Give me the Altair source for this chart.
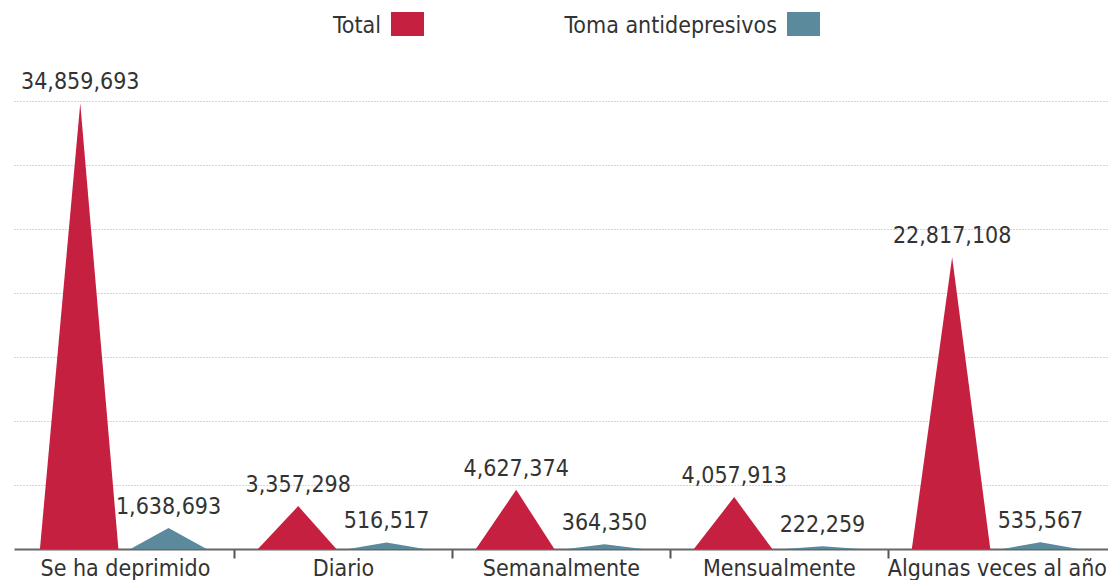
import json
import altair as alt
import pandas as pd

# ---- data ----
categories = ["Se ha deprimido", "Diario", "Semanalmente", "Mensualmente", "Algunas veces al año"]
total = [34859693, 3357298, 4627374, 4057913, 22817108]
antidep = [1638693, 516517, 364350, 222259, 535567]
series = ["Total", "Toma antidepresivos"]
colors = ["#c62041", "#5b8a9c"]
grid_values = [5e6, 10e6, 15e6, 20e6, 25e6, 30e6, 35e6]

# ---- style: where each peak sits inside its category slot (left base, apex, right base) ----
shape = {"Total": (0.11, 0.295, 0.47), "Toma antidepresivos": (0.525, 0.70, 0.875)}
values_by_series = {"Total": total, "Toma antidepresivos": antidep}

rows, labels = [], []
for i, cat in enumerate(categories):
    for s in series:
        v = values_by_series[s][i]
        l, a, r = shape[s]
        key = f"{i}-{s}"
        rows.append(dict(key=key, serie=s, x=i + l, y=0))
        rows.append(dict(key=key, serie=s, x=i + a, y=v))
        rows.append(dict(key=key, serie=s, x=i + r, y=0))
        labels.append(dict(serie=s, x=i + a, y=v))

peaks = pd.DataFrame(rows)
labs = pd.DataFrame(labels)

FONT = "Liberation Sans Narrow, DejaVu Sans Condensed, Roboto Condensed, Liberation Sans, sans-serif"
W, H = 1094, 541

xscale = alt.Scale(domain=[-0.009, 5.01], nice=False, zero=False)
yscale = alt.Scale(domain=[0, 42.3e6], nice=False)
cscale = alt.Scale(domain=series, range=colors)

tick_vals = [0.5, 1, 1.5, 2, 2.5, 3, 3.5, 4, 4.5]
label_expr = ("datum.value % 1 == 0.5 ? " + json.dumps(categories, ensure_ascii=False)
              + "[floor(datum.value)] : ''")

xaxis = alt.Axis(
    values=tick_vals, labelExpr=label_expr, title=None, grid=False,
    tickOpacity={"condition": {"test": "datum.value % 1 == 0", "value": 1}, "value": 0},
    tickSize=9, tickWidth=2, tickColor="#555", domainColor="#666", domainWidth=2,
    labelFont=FONT, labelFontSize=23, labelColor="#333", labelOverlap=False,
    labelFlush=False, labelPadding=-1, labelBound=False, labelLimit=0,
)
yaxis = alt.Axis(values=grid_values, labels=False, ticks=False, domain=False, title=None,
                 grid=True, gridDash=[1, 2], gridColor="#a8a8a8", gridWidth=1)

area = alt.Chart(peaks).mark_area(opacity=1).encode(
    x=alt.X("x:Q", scale=xscale, axis=xaxis),
    y=alt.Y("y:Q", scale=yscale, axis=yaxis, stack=None),
    color=alt.Color("serie:N", scale=cscale, legend=None),
    detail="key:N",
)

text = alt.Chart(labs).mark_text(baseline="bottom", dy=-9, font=FONT, fontSize=23, color="#333").encode(
    x=alt.X("x:Q", scale=xscale),
    y=alt.Y("y:Q", scale=yscale),
    text=alt.Text("y:Q", format=","),
)

# manual legend (labels left of swatches, as in the reference)
leg_layers = []
leg_pos = {"Total": 367, "Toma antidepresivos": 763}
for s, c in zip(series, colors):
    xr = leg_pos[s]
    d = pd.DataFrame({"serie": [s]})
    leg_layers.append(alt.Chart(d).mark_text(align="right", baseline="alphabetic", font=FONT,
                                             fontSize=23, color="#333").encode(
        x=alt.value(xr), y=alt.value(25), text="serie:N"))
    leg_layers.append(alt.Chart(d).mark_rect(color=c).encode(
        x=alt.value(xr + 10), x2=alt.value(xr + 43), y=alt.value(4), y2=alt.value(28)))

chart = alt.layer(area, text, *leg_layers).properties(
    width=W, height=H, padding={"left": 6, "top": 0, "right": 0, "bottom": 0},
    background="white",
).configure_view(stroke=None)

chart.save("out.html", embed_options={"renderer": "svg", "actions": False})
